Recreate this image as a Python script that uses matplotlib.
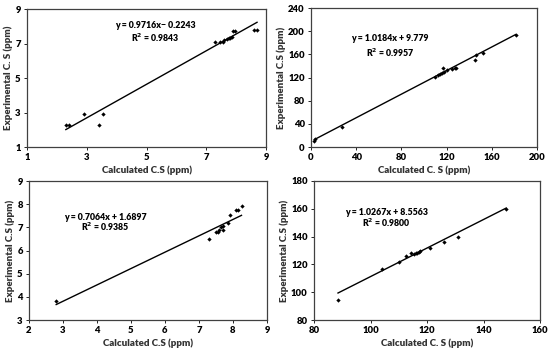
import numpy as np
import matplotlib
matplotlib.use("Agg")
import matplotlib.pyplot as plt

plt.rcParams['font.family'] = ['Lato', 'DejaVu Sans']
plt.rcParams['font.weight'] = 'bold'

# panel 1 (top left)
x1 = [2.3, 2.4, 2.9, 3.4, 3.55, 7.3, 7.45, 7.55, 7.6, 7.7, 7.75, 7.8, 7.85, 7.9, 7.95, 8.6, 8.7]
y1 = [2.3, 2.3, 2.9, 2.3, 2.9, 7.1, 7.1, 7.1, 7.2, 7.25, 7.3, 7.3, 7.35, 7.7, 7.7, 7.8, 7.8]
fit1 = (0.9716, -0.2243)

# panel 2 (top right)
x2 = [3, 3.5, 27, 110, 112, 114, 116, 117, 118, 120, 125, 127, 128, 145, 146, 152, 181]
y2 = [11, 13, 35, 121, 124, 126, 128, 136, 130, 133, 134, 137, 137, 150, 159, 162, 194]
fit2 = (1.0184, 9.779)

# panel 3 (bottom left)
x3 = [2.8, 7.3, 7.5, 7.55, 7.6, 7.65, 7.7, 7.7, 7.85, 7.9, 8.1, 8.15, 8.25]
y3 = [3.8, 6.5, 6.8, 6.8, 6.9, 7.0, 6.9, 7.05, 7.2, 7.55, 7.75, 7.75, 7.9]
fit3 = (0.7064, 1.6897)

# panel 4 (bottom right)
x4 = [88.5, 104, 110, 112.5, 114.5, 115.5, 116, 116.5, 117, 117.5, 121, 126, 131, 148]
y4 = [94.5, 116.5, 122, 126, 128, 127.5, 128, 128, 129, 129.5, 132, 136, 140, 160]
fit4 = (1.0267, 8.5563)

panels = [
    dict(x=x1, y=y1, fit=fit1, eq="y = 0.9716x\u2212 0.2243", r2="R$^2$ = 0.9843",
         xlim=(1, 9), ylim=(1, 9), xt=[1, 3, 5, 7, 9], yt=[1, 3, 5, 7, 9],
         xl="Calculated C.S (ppm)", yl="Experimental C. S (ppm)",
         pos=[27/550, 1-147/351, 239/550, 138/351], tx=0.535, ty=(0.877, 0.79)),
    dict(x=x2, y=y2, fit=fit2, eq="y = 1.0184x + 9.779", r2="R$^2$ = 0.9957",
         xlim=(0, 200), ylim=(0, 240), xt=range(0, 201, 40), yt=range(0, 241, 40),
         xl="Calculated C. S (ppm)", yl="Experimental C.S (ppm)",
         pos=[311/550, 1-147/351, 226/550, 139/351], tx=0.35, ty=(0.777, 0.676)),
    dict(x=x3, y=y3, fit=fit3, eq="y = 0.7064x + 1.6897", r2="R$^2$ = 0.9385",
         xlim=(2, 9), ylim=(3, 9), xt=range(2, 10), yt=range(3, 10),
         xl="Calculated C.S (ppm)", yl="Experimental C.S (ppm)",
         pos=[29/550, 1-320/351, 238/550, 139/351], tx=0.32, ty=(0.74, 0.67)),
    dict(x=x4, y=y4, fit=fit4, eq="y = 1.0267x + 8.5563", r2="R$^2$ = 0.9800",
         xlim=(80, 160), ylim=(80, 180), xt=range(80, 161, 20), yt=range(80, 181, 20),
         xl="Calculated C. S (ppm)", yl="Experimental C.S (ppm)",
         pos=[314/550, 1-320/351, 226/550, 139/351], tx=0.32, ty=(0.77, 0.70)),
]

fig = plt.figure(figsize=(5.5, 3.51), dpi=100)

for p in panels:
    ax = fig.add_axes(p["pos"])
    ax.plot(p["x"], p["y"], 'D', color='black', markersize=2.2, markeredgewidth=0)
    xs = np.array([min(p["x"]), max(p["x"])])
    a, b = p["fit"]
    ax.plot(xs, a * xs + b, color='black', linewidth=1.0)
    ax.set_xlim(*p["xlim"])
    ax.set_ylim(*p["ylim"])
    ax.set_xticks(list(p["xt"]))
    ax.set_yticks(list(p["yt"]))
    ax.tick_params(labelsize=6.8, length=2.5, width=0.6, direction='out', pad=2)
    for lbl in ax.get_xticklabels() + ax.get_yticklabels():
        lbl.set_fontweight('heavy')
    for s in ax.spines.values():
        s.set_color('#404040')
        s.set_linewidth(0.9)
    ax.set_xlabel(p["xl"], fontsize=7, fontweight='heavy', labelpad=2, color='#333333')
    ax.set_ylabel(p["yl"], fontsize=7, fontweight='heavy', labelpad=1.5, color='#333333')
    ax.text(p["tx"], p["ty"][0], p["eq"], transform=ax.transAxes, ha='center', va='center',
            fontsize=6.3, fontweight='heavy')
    ax.text(p["tx"], p["ty"][1], p["r2"], transform=ax.transAxes, ha='center', va='center',
            fontsize=6.3, fontweight='heavy')

fig.savefig("out.png", dpi=100)
